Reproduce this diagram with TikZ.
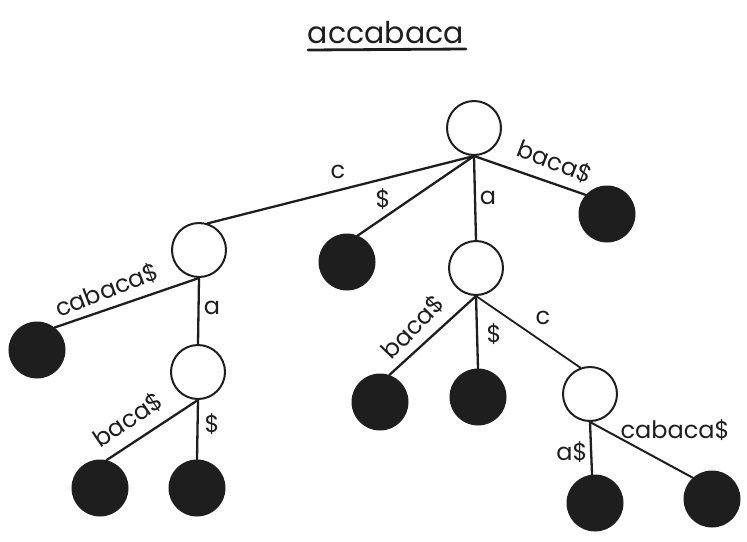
\documentclass[tikz,border=0pt]{standalone}
\usepackage{fontspec}
\setmainfont{Poppins}
\definecolor{ink}{HTML}{1E1E1E}
\begin{document}
\begin{tikzpicture}[x=1pt,y=-1pt,
  innernode/.style={circle,draw=ink,line width=2pt,fill=white,minimum size=54pt,inner sep=0pt},
  leafnode/.style={circle,draw=ink,fill=ink,line width=1pt,minimum size=56pt,inner sep=0pt},
  edgeline/.style={draw=ink,line width=2.3pt,line cap=round},
  lbl/.style={font=\fontsize{24}{26}\selectfont,text=ink,inner sep=0pt}]
\path[use as bounding box] (0,0) rectangle (747,541);
% title
\node[font=\fontsize{30}{32}\selectfont,text=ink,anchor=base,inner sep=0pt] (title) at (386,43) {accabaca};
\coordinate (ul1) at (308,50);
\coordinate (ul2) at (466,49);
\draw[ink,line width=2.8pt,line cap=round] (ul1) -- (ul2);
% nodes
\node[innernode] (root) at (474,128) {};
\node[innernode] (A) at (199,250) {};
\node[leafnode] (Ld) at (347,262) {};
\node[innernode] (B) at (476,268) {};
\node[leafnode] (Lbaca) at (607,214) {};
\node[leafnode] (Lcab) at (37,350) {};
\node[innernode] (C) at (198,372) {};
\node[leafnode] (L1) at (100,488) {};
\node[leafnode] (L2) at (197,488) {};
\node[leafnode] (Lb) at (380,402) {};
\node[leafnode] (Ld2) at (478,397) {};
\node[innernode] (D) at (590,394) {};
\node[leafnode] (La) at (595,503) {};
\node[leafnode] (Lcab2) at (712,499) {};
% edges
\draw[edgeline] (root.south) -- (A.72);
\draw[edgeline] (root.south) -- (Ld.68);
\draw[edgeline] (root.south) -- (B.north);
\draw[edgeline] (root.south) -- (Lbaca.138);
\draw[edgeline] (A.south) -- (Lcab.52);
\draw[edgeline] (A.south) -- (C.north);
\draw[edgeline] (C.south) -- (L1.77);
\draw[edgeline] (C.south) -- (L2.north);
\draw[edgeline] (B.south) -- (Lb.71);
\draw[edgeline] (B.south) -- (Ld2.north);
\draw[edgeline,line width=1.8pt] (B.south) -- (D.110);
\draw[edgeline] (D.south) -- (La.96);
\draw[edgeline,line width=2pt] (D.south) -- (Lcab2.132);
% labels
\node[lbl] (tc) at (338,172) {c};
\node[lbl] (td) at (383,199) {\$};
\node[lbl] (ta) at (488,198) {a};
\node[lbl,rotate=-21] (tbaca) at (555,162) {baca\$};
\node[lbl,rotate=21] (tcab) at (107,290) {cabaca\$};
\node[lbl] (ta2) at (212,308) {a};
\node[lbl,rotate=34] (tbaca2) at (128,420) {baca\$};
\node[lbl] (td2) at (212,424) {\$};
\node[lbl,rotate=46] (tbaca3) at (413,327) {baca\$};
\node[lbl] (td3) at (494,334) {\$};
\node[lbl] (tc2) at (543,318) {c};
\node[lbl] (tad) at (572,452) {a\$};
\node[lbl] (tcab2) at (675,430) {cabaca\$};
\end{tikzpicture}
\end{document}
